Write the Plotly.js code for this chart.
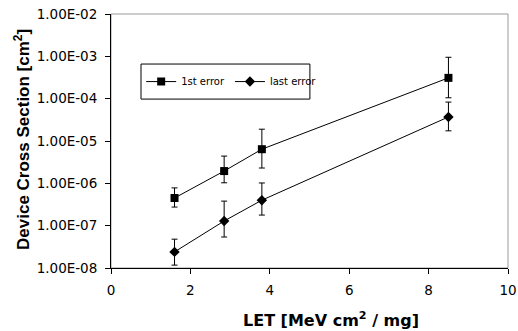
<!DOCTYPE html>
<html><head><meta charset="utf-8">
<script src="https://cdn.plot.ly/plotly-3.0.1.min.js"></script>
<style>html,body{margin:0;padding:0;background:#fff}#c{width:518px;height:331px}</style>
</head><body><div id="c"></div>
<script>
const let1 = [1.6, 2.85, 3.8, 8.5];
const first = [4.5e-7, 1.95e-6, 6.4e-6, 3.1e-4];
const firstHi = [7.8e-7, 4.4e-6, 1.9e-5, 9.5e-4];
const firstLo = [2.75e-7, 1.03e-6, 2.3e-6, 1.05e-4];
const last = [2.4e-8, 1.29e-7, 4.0e-7, 3.7e-5];
const lastHi = [4.8e-8, 3.8e-7, 1.02e-6, 8.3e-5];
const lastLo = [1.17e-8, 5.4e-8, 1.78e-7, 1.74e-5];
const yTickVals = [1e-8, 1e-7, 1e-6, 1e-5, 1e-4, 1e-3, 1e-2];
const yTickText = ["1.00E-08","1.00E-07","1.00E-06","1.00E-05","1.00E-04","1.00E-03","1.00E-02"];
const xTickVals = [0, 2, 4, 6, 8, 10];
const xTitle = 'LET [MeV cm<sup>2</sup> / mg]';
const yTitle = 'Device Cross Section [cm<sup>2</sup>]';

function mk(name, y, hi, lo, sym, size) {
  return {
    x: let1, y: y, name: name, type: 'scatter', mode: 'lines+markers',
    line: {color: '#000', width: 1},
    marker: {symbol: sym, size: size, color: '#000'},
    error_y: {type: 'data', symmetric: false,
      array: hi.map((h, i) => h - y[i]),
      arrayminus: lo.map((l, i) => y[i] - l),
      color: '#000', thickness: 1, width: 3}
  };
}
const data = [
  mk('1st error', first, firstHi, firstLo, 'square', 8),
  mk('last error', last, lastHi, lastLo, 'diamond', 8)
];
const tickFont = {family: 'DejaVu Sans', size: 13.5, color: '#000'};
const layout = {
  width: 518, height: 331,
  margin: {l: 111, r: 10, t: 14, b: 63},
  paper_bgcolor: '#fff', plot_bgcolor: '#fff',
  font: {family: 'DejaVu Sans', color: '#000', size: 12},
  showlegend: true,
  legend: {orientation: 'h', x: 0.076, y: 0.734, xanchor: 'left', yanchor: 'middle',
    borderwidth: 0, bgcolor: 'rgba(0,0,0,0)',
    font: {size: 10, family: 'DejaVu Sans'},
    itemwidth: 30, tracegroupgap: 0},
  xaxis: {range: [0, 10], tickvals: xTickVals, ticks: 'outside', ticklen: 5, tickcolor: '#000',
    showgrid: false, zeroline: false, showline: true, linecolor: '#000', linewidth: 1,
    tickfont: tickFont, ticklabelstandoff: 5},
  yaxis: {type: 'log', range: [-8, -2], tickvals: yTickVals, ticktext: yTickText,
    ticks: 'outside', ticklen: 5, tickcolor: '#000',
    showgrid: false, zeroline: false, showline: true, linecolor: '#000', linewidth: 1,
    tickfont: tickFont, ticklabelstandoff: 5},
  annotations: [
    {text: '<b>' + xTitle + '</b>', xref: 'paper', yref: 'paper', x: 0.555, y: -0.2047,
      xanchor: 'center', yanchor: 'middle', showarrow: false,
      font: {family: 'DejaVu Sans', size: 16, color: '#000'}},
    {text: '<b>' + yTitle + '</b>', xref: 'paper', yref: 'paper', x: -0.2242, y: 0.508,
      xanchor: 'center', yanchor: 'middle', showarrow: false, textangle: -90,
      font: {family: 'Liberation Sans', size: 17, color: '#000'}}
  ],
  shapes: [
    {type: 'rect', xref: 'paper', yref: 'paper', x0: 0, x1: 1, y0: 0, y1: 1,
      line: {color: '#999', width: 1}, layer: 'below'},
    {type: 'rect', xref: 'paper', yref: 'paper', x0: 0.0756, x1: 0.501, y0: 0.665, y1: 0.803,
      line: {color: '#000', width: 1}, fillcolor: '#fff', layer: 'below'}
  ]
};
Plotly.newPlot('c', data, layout, {displayModeBar: false, staticPlot: true});
</script></body></html>
